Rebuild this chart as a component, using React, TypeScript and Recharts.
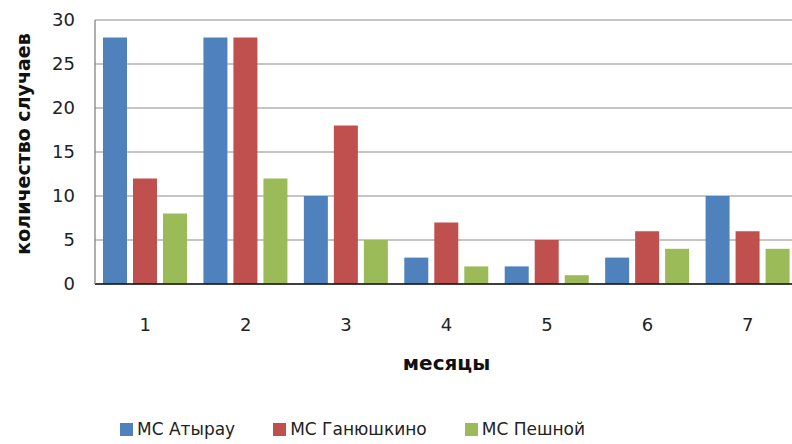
import { BarChart, Bar, XAxis, YAxis, CartesianGrid, Legend } from 'recharts'

const months = ['1', '2', '3', '4', '5', '6', '7']
const atyrau = [28, 28, 10, 3, 2, 3, 10]
const ganyushkino = [12, 28, 18, 7, 5, 6, 6]
const peshnoy = [8, 12, 5, 2, 1, 4, 4]
const yTicks = [0, 5, 10, 15, 20, 25, 30]

const series = [
  { key: 'atyrau', name: 'МС Атырау', color: '#4f81bd' },
  { key: 'ganyushkino', name: 'МС Ганюшкино', color: '#c0504d' },
  { key: 'peshnoy', name: 'МС Пешной', color: '#9bbb59' },
]

const data = months.map((m, i) => ({
  month: m,
  atyrau: atyrau[i],
  ganyushkino: ganyushkino[i],
  peshnoy: peshnoy[i],
}))

const FONT = '"DejaVu Sans", sans-serif'

function LegendRow() {
  return (
    <div style={{ display: 'flex', alignItems: 'center', fontFamily: FONT, fontSize: 17, color: '#222' }}>
      {series.map((s) => (
        <div key={s.key} style={{ display: 'flex', alignItems: 'center', marginRight: 38 }}>
          <span style={{ width: 13, height: 13, background: s.color, marginRight: 4, display: 'inline-block' }} />
          <span>{s.name}</span>
        </div>
      ))}
    </div>
  )
}

export default function App() {
  return (
    <div style={{ position: 'absolute', left: 0, top: 0, width: 792, height: 444, overflow: 'hidden', background: '#fff' }}>
      <BarChart
        width={798}
        height={444}
        data={data}
        margin={{ top: 20, right: 0, left: 0, bottom: 70 }}
        barSize={24}
        barGap={6}
        style={{ fontFamily: FONT }}
      >
        <CartesianGrid vertical={false} stroke="#8c8c8c" strokeWidth={1.2} />
        <XAxis
          dataKey="month"
          height={90}
          tickLine={false}
          axisLine={{ stroke: '#111', strokeWidth: 1.5 }}
          tick={{ fontSize: 18, fill: '#222' }}
          tickMargin={28}
          label={{ value: 'месяцы', position: 'insideBottom', offset: 4, fontSize: 20, fontWeight: 'bold', fill: '#111' }}
        />
        <YAxis
          width={95}
          domain={[0, 30]}
          ticks={yTicks}
          tickSize={0}
          tickMargin={20}
          axisLine={{ stroke: '#7a7a7a', strokeWidth: 1.2 }}
          tick={{ fontSize: 18, fill: '#222' }}
          label={{ value: 'количество случаев', angle: -90, position: 'center', dx: -24, dy: -8, fontSize: 19, fontWeight: 'bold', fill: '#111' }}
        />
        <Legend
          verticalAlign="middle"
          layout="horizontal"
          content={() => <LegendRow />}
          wrapperStyle={{ position: 'absolute', top: 419, left: 120, width: 'auto' }}
        />
        {series.map((s) => (
          <Bar key={s.key} dataKey={s.key} name={s.name} fill={s.color} isAnimationActive={false} />
        ))}
      </BarChart>
    </div>
  )
}
